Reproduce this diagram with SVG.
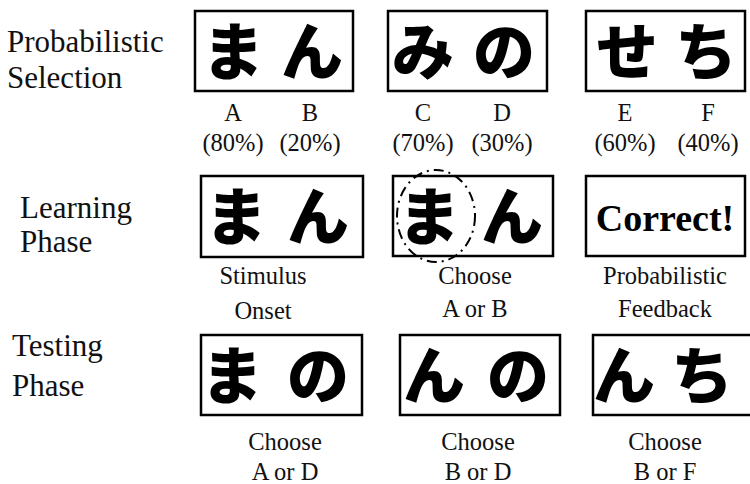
<svg xmlns="http://www.w3.org/2000/svg" width="750" height="484" viewBox="0 0 750 484">
<style>
.box{fill:#fff;stroke:#000;stroke-width:2.5}
.kana{font-family:"Noto Sans CJK JP",sans-serif;font-weight:900;font-size:62px;text-anchor:middle;fill:#000}
.hd{font-family:"Liberation Serif",serif;font-size:31px;fill:#111}
.lb{font-family:"Liberation Serif",serif;font-size:24.5px;fill:#111;text-anchor:middle}
.big{font-family:"Liberation Serif",serif;font-size:38px;font-weight:bold;text-anchor:middle;fill:#000}
</style>
<rect width="750" height="484" fill="#fff"/>
<g id="row-labels">
<text class="hd" x="7" y="52">Probabilistic</text>
<text class="hd" x="7" y="88">Selection</text>
<text class="hd" x="20" y="218">Learning</text>
<text class="hd" x="20" y="252">Phase</text>
<text class="hd" x="12" y="356">Testing</text>
<text class="hd" x="12" y="396">Phase</text>
</g>
<g id="sel-AB">
<rect class="box" x="195" y="11" width="158" height="80"/>
<text class="kana" x="233" y="75">ま</text>
<text class="kana" x="312" y="75">ん</text>
<text class="lb" x="233" y="121">A</text>
<text class="lb" x="310" y="121">B</text>
<text class="lb" x="233" y="151">(80%)</text>
<text class="lb" x="310" y="151">(20%)</text>
</g>
<g id="sel-CD">
<rect class="box" x="388" y="11" width="159" height="80"/>
<text class="kana" x="423" y="75">み</text>
<text class="kana" x="504" y="75">の</text>
<text class="lb" x="423" y="121">C</text>
<text class="lb" x="502" y="121">D</text>
<text class="lb" x="423" y="151">(70%)</text>
<text class="lb" x="502" y="151">(30%)</text>
</g>
<g id="sel-EF">
<rect class="box" x="586" y="11" width="159" height="80"/>
<text class="kana" x="627" y="75">せ</text>
<text class="kana" x="706" y="75">ち</text>
<text class="lb" x="625" y="121">E</text>
<text class="lb" x="708" y="121">F</text>
<text class="lb" x="625" y="151">(60%)</text>
<text class="lb" x="708" y="151">(40%)</text>
</g>
<g id="learn-onset">
<rect class="box" x="201" y="176" width="162" height="81"/>
<text class="kana" x="236" y="240">ま</text>
<text class="kana" x="318" y="240">ん</text>
<text class="lb" x="263" y="284">Stimulus</text>
<text class="lb" x="263" y="319">Onset</text>
</g>
<g id="learn-choose">
<rect class="box" x="393" y="176" width="160" height="80"/>
<text class="kana" x="429" y="240">ま</text>
<text class="kana" x="512" y="240">ん</text>
<ellipse cx="436" cy="216" rx="39" ry="46" fill="none" stroke="#000" stroke-width="2" stroke-dasharray="10 5 2 5"/>
<text class="lb" x="475" y="284">Choose</text>
<text class="lb" x="475" y="317">A or B</text>
</g>
<g id="learn-feedback">
<rect class="box" x="586" y="176" width="159" height="80"/>
<text class="big" x="665" y="231">Correct!</text>
<text class="lb" x="665" y="284">Probabilistic</text>
<text class="lb" x="665" y="317">Feedback</text>
</g>
<g id="test-AD">
<rect class="box" x="201" y="335" width="161" height="80"/>
<text class="kana" x="232" y="399">ま</text>
<text class="kana" x="318" y="399">の</text>
<text class="lb" x="285" y="450">Choose</text>
<text class="lb" x="285" y="480">A or D</text>
</g>
<g id="test-BD">
<rect class="box" x="400" y="335" width="160" height="80"/>
<text class="kana" x="434" y="399">ん</text>
<text class="kana" x="518" y="399">の</text>
<text class="lb" x="478" y="450">Choose</text>
<text class="lb" x="478" y="480">B or D</text>
</g>
<g id="test-BF">
<rect class="box" x="593" y="335" width="160" height="80"/>
<text class="kana" x="624" y="399">ん</text>
<text class="kana" x="702" y="399">ち</text>
<text class="lb" x="665" y="450">Choose</text>
<text class="lb" x="665" y="480">B or F</text>
</g>
<g id="connectors"></g>
</svg>
